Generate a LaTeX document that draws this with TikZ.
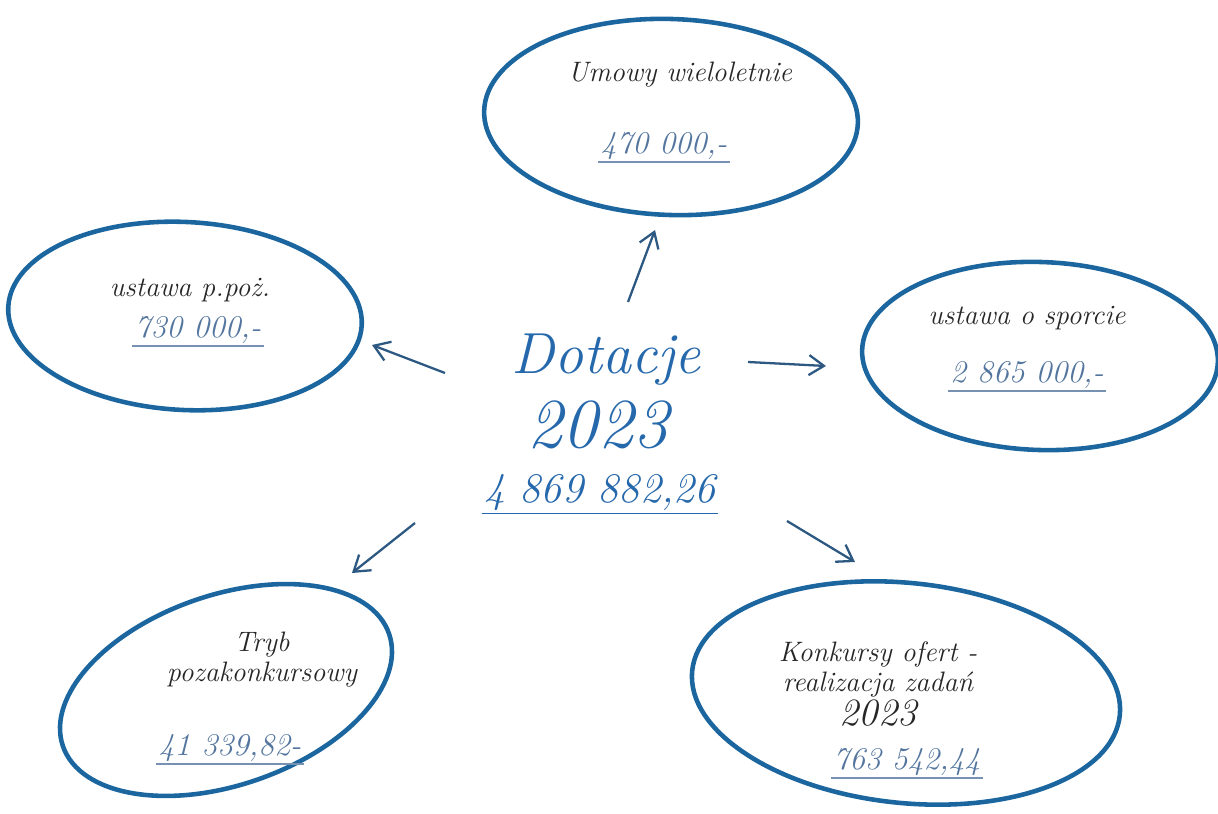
\documentclass[tikz,border=0pt]{standalone}
\usepackage{tikz}
\usetikzlibrary{arrows.meta,positioning,shapes.geometric}

\definecolor{ovalblue}{RGB}{28,102,160}
\definecolor{inkblue}{RGB}{38,104,172}
\definecolor{numblue}{RGB}{84,118,158}
\definecolor{arrowblue}{RGB}{45,88,130}

\begin{document}
\begin{tikzpicture}[
    x=0.02cm, y=-0.02cm, % 以像素為單位,y 向下
    thick,
    >={Straight Barb[length=3mm, width=4mm]}, % 設定箭頭樣式
    % --- 樣式定義 ---
    % 藍色橢圓外框
    oval/.style={
        draw=ovalblue,
        line width=2.6pt,
        ellipse,
        inner sep=0pt
    },
    % 黑色說明文字
    label text/.style={
        font=\itshape\fontsize{16}{17}\selectfont,
        text=black!85,
        align=center,
        inner sep=1pt
    },
    % 金額文字
    amount text/.style={
        font=\itshape\fontsize{18}{20}\selectfont,
        text=numblue,
        inner sep=1pt
    },
    % 中央標題
    title text/.style={
        font=\itshape\fontsize{#1}{#1}\selectfont,
        text=inkblue,
        inner sep=1pt
    },
    % 底線
    underline/.style={draw=numblue!80, line width=0.8pt},
    % 箭頭
    link/.style={->, draw=arrowblue, line width=1.3pt}
]
    \useasboundingbox (0,0) rectangle (1218,814);

    % ====== 中央:Dotacje 2023 ======
    \node[title text=33] (title) at (606,360) {Dotacje};
    \node[title text=40] (year) at (598,425) {2023};
    \node[title text=24] (total) at (600,493) {4 869 882,26};
    \draw[underline, draw=inkblue] (total.south west) -- (total.south east);

    % ====== 橢圓 ======
    \node[oval, minimum width=7.48cm, minimum height=3.92cm, rotate=-2] (oval top) at (671,117) {};
    \node[oval, minimum width=7.08cm, minimum height=3.76cm, rotate=-3] (oval left) at (185,316) {};
    \node[oval, minimum width=7.12cm, minimum height=3.76cm, rotate=-2] (oval right) at (1040,356) {};
    \node[oval, minimum width=6.9cm, minimum height=3.8cm, rotate=19] (oval low left) at (226,690) {};
    \node[oval, minimum width=8.6cm, minimum height=4.4cm, rotate=-6] (oval low right) at (906,693) {};

    % ====== 文字與金額 ======
    % Umowy wieloletnie
    \node[label text] (multi label) at (680,75) {Umowy wieloletnie};
    \node[amount text] (multi sum) at (664,146) {470 000,-};
    \draw[underline] (multi sum.south west) -- (multi sum.south east);

    % ustawa p.poż.
    \node[label text] (fire label) at (190,290) {ustawa p.poż.};
    \node[amount text] (fire sum) at (198,330) {730 000,-};
    \draw[underline] (fire sum.south west) -- (fire sum.south east);

    % ustawa o sporcie
    \node[label text] (sport label) at (1027,318) {ustawa o sporcie};
    \node[amount text] (sport sum) at (1027,375) {2 865 000,-};
    \draw[underline] (sport sum.south west) -- (sport sum.south east);

    % Tryb pozakonkursowy
    \node[label text] (mode label) at (262,660) {Tryb\\pozakonkursowy};
    \node[amount text] (mode sum) at (230,748) {41 339,82-};
    \draw[underline] (mode sum.south west) -- (mode sum.south east);

    % Konkursy ofert
    \node[label text] (contest label) at (878,684) {Konkursy ofert -\\realizacja zadań\\{\fontsize{22}{22}\selectfont 2023}};
    \node[amount text] (contest sum) at (907,762) {763 542,44};
    \draw[underline] (contest sum.south west) -- (contest sum.south east);

    % ====== 箭頭連接 ======
    \coordinate (up tail) at (628,302);
    \coordinate (up head) at (655,230);
    \coordinate (left tail) at (445,373);
    \coordinate (left head) at (372,345);
    \coordinate (right tail) at (748,362);
    \coordinate (right head) at (826,366);
    \coordinate (dl tail) at (415,523);
    \coordinate (dl head) at (352,573);
    \coordinate (dr tail) at (787,521);
    \coordinate (dr head) at (855,562);

    \draw[link] (up tail) -- (up head);
    \draw[link] (left tail) -- (left head);
    \draw[link] (right tail) -- (right head);
    \draw[link] (dl tail) -- (dl head);
    \draw[link] (dr tail) -- (dr head);

\end{tikzpicture}
\end{document}
